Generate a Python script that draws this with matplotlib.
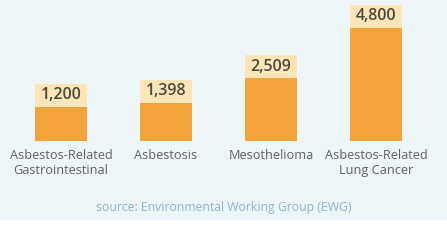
import matplotlib.pyplot as plt
from matplotlib.patches import Rectangle
from matplotlib.transforms import blended_transform_factory

# data
categories = ['Asbestos-Related\nGastrointestinal', 'Asbestosis',
              'Mesothelioma', 'Asbestos-Related\nLung Cancer']
values = [1200, 1398, 2509, 4800]
value_labels = ['1,200', '1,398', '2,509', '4,800']

plt.rcParams['font.family'] = ['Open Sans', 'DejaVu Sans']

fig = plt.figure(figsize=(4.47, 2.52), dpi=100)
fig.patch.set_facecolor('white')

# light blue panel behind the chart
fig.patches.append(Rectangle((0, 32 / 252), 1, 1 - 32 / 252, transform=fig.transFigure,
                             facecolor='#eef5f9', edgecolor='none', zorder=-10))

ax = fig.add_axes([0, 0, 1, 1])
ax.set_facecolor('none')
ax.set_xlim(-0.581, 3.676)
ax.set_ylim(-5410, 6076)
ax.axis('off')

base = -351      # bars start slightly below zero
box_h = 1048     # height of the value label box
x = range(len(values))
ax.bar(x, [v - base for v in values], bottom=base, width=0.495,
       color='#f2a43a', zorder=2)
ax.bar(x, [box_h] * len(values), bottom=values, width=0.495,
       color='#fde5b8', zorder=2)

for i, v in enumerate(values):
    ax.text(i, v + box_h / 2, value_labels[i], ha='center', va='center',
            fontsize=11.5, fontweight='semibold', color='#4a4a3c', zorder=3)

trans = blended_transform_factory(ax.transData, ax.transAxes)
for i, c in enumerate(categories):
    ax.text(i, 1 - 149 / 252, c, transform=trans, ha='center', va='top',
            fontsize=9.2, color='#626262', linespacing=1.2)

fig.text(224 / 447, 45 / 252, 'source: Environmental Working Group (EWG)',
         ha='center', va='center', fontsize=8.8, color='#8fb4c6')

fig.savefig('out.png', dpi=100, facecolor=fig.get_facecolor())
